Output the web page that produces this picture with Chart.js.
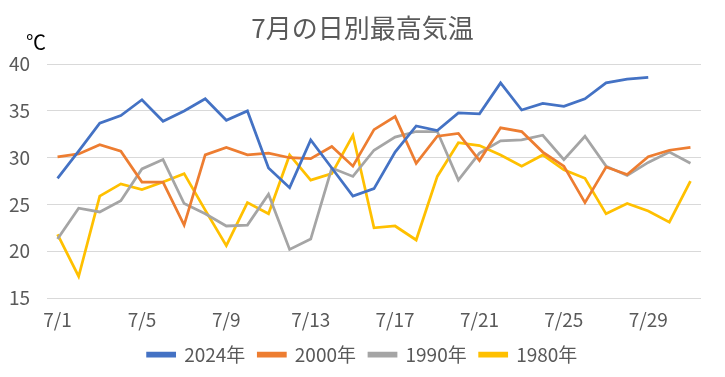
<!DOCTYPE html>
<html lang="ja">
<head>
<meta charset="UTF-8">
<title>7月の日別最高気温</title>
<script src="https://cdn.jsdelivr.net/npm/chart.js"></script>
<style>
    body { margin: 0; padding: 0; background: #ffffff; }
    #wrap { width: 725px; height: 377px; }
</style>
</head>
<body>
<div id="wrap"><canvas id="chart" width="725" height="377"></canvas></div>
<script>
    const days = ['7/1', '7/2', '7/3', '7/4', '7/5', '7/6', '7/7', '7/8', '7/9', '7/10',
        '7/11', '7/12', '7/13', '7/14', '7/15', '7/16', '7/17', '7/18', '7/19', '7/20',
        '7/21', '7/22', '7/23', '7/24', '7/25', '7/26', '7/27', '7/28', '7/29', '7/30', '7/31'];

    const temp2024 = [27.8, 30.7, 33.7, 34.5, 36.2, 33.9, 35.0, 36.3, 34.0, 35.0,
        28.9, 26.8, 31.9, 28.9, 25.9, 26.7, 30.6, 33.4, 32.9, 34.8,
        34.7, 38.0, 35.1, 35.8, 35.5, 36.3, 38.0, 38.4, 38.6, null, null];
    const temp2000 = [30.1, 30.4, 31.4, 30.7, 27.4, 27.4, 22.8, 30.3, 31.1, 30.3,
        30.5, 30.0, 29.9, 31.2, 29.1, 33.0, 34.4, 29.4, 32.3, 32.6,
        29.7, 33.2, 32.8, 30.6, 29.1, 25.2, 29.0, 28.2, 30.1, 30.8, 31.1];
    const temp1990 = [21.3, 24.6, 24.2, 25.4, 28.8, 29.8, 25.1, 24.0, 22.7, 22.8,
        26.1, 20.2, 21.3, 28.9, 28.0, 30.8, 32.2, 32.8, 32.8, 27.6,
        30.5, 31.8, 31.9, 32.4, 29.8, 32.3, 29.1, 28.1, 29.5, 30.6, 29.4];
    const temp1980 = [21.8, 17.3, 25.9, 27.2, 26.6, 27.4, 28.3, 24.4, 20.6, 25.2,
        24.0, 30.3, 27.6, 28.3, 32.4, 22.5, 22.7, 21.2, 28.0, 31.6,
        31.3, 30.3, 29.1, 30.3, 28.7, 27.8, 24.0, 25.1, 24.3, 23.1, 27.5];

    const seriesNames = ['2024年', '2000年', '1990年', '1980年'];
    const seriesColors = ['#4472C4', '#ED7D31', '#A5A5A5', '#FFC000'];

    const yMin = 15, yMax = 40, yStep = 5;

    const fontFamily = "'Noto Sans CJK JP', sans-serif";
    const textColor = '#595959';

    // draws the unit label above the y axis
    const unitLabel = {
        id: 'unitLabel',
        afterDraw(chart) {
            const ctx = chart.ctx;
            const area = chart.chartArea;
            ctx.save();
            ctx.font = "20px 'Noto Sans CJK JP', sans-serif";
            ctx.fillStyle = '#000000';
            ctx.textAlign = 'center';
            ctx.textBaseline = 'middle';
            ctx.fillText('℃', area.left - 11, area.top - 22);
            ctx.restore();
        }
    };

    const allSeries = [temp2024, temp2000, temp1990, temp1980];

    new Chart(document.getElementById('chart'), {
        type: 'line',
        data: {
            labels: days,
            datasets: allSeries.map((vals, i) => ({
                label: seriesNames[i],
                data: vals,
                borderColor: seriesColors[i],
                backgroundColor: seriesColors[i],
                borderWidth: 2.75,
                pointRadius: 0,
                tension: 0,
                fill: false
            }))
        },
        options: {
            responsive: false,
            animation: false,
            layout: { padding: { left: 9, right: 9, top: 0, bottom: 3 } },
            plugins: {
                title: {
                    display: true,
                    text: '7月の日別最高気温',
                    color: textColor,
                    font: { family: fontFamily, size: 26, weight: 'normal' },
                    padding: { top: 13, bottom: 20 }
                },
                legend: {
                    position: 'bottom',
                    labels: {
                        color: textColor,
                        font: { family: fontFamily, size: 19 },
                        boxWidth: 27,
                        boxHeight: 3,
                        padding: 13
                    }
                },
                tooltip: { enabled: false }
            },
            scales: {
                x: {
                    offset: true,
                    grid: { display: false },
                    border: { display: false },
                    ticks: {
                        autoSkip: false,
                        maxRotation: 0,
                        color: textColor,
                        padding: 2,
                        font: { family: fontFamily, size: 19 },
                        callback: function (value, index) {
                            return index % 4 === 0 ? days[index] : '';
                        }
                    },
                    afterFit: function (scale) { scale.height = 34; }
                },
                y: {
                    min: yMin,
                    max: yMax,
                    grid: { color: '#D9D9D9', drawTicks: false },
                    border: { display: false },
                    ticks: {
                        stepSize: yStep,
                        color: textColor,
                        padding: 17,
                        font: { family: fontFamily, size: 19 }
                    },
                    afterFit: function (scale) { scale.width = 38; }
                },
                // empty right margin so the legend and title stay centred on the page
                yRight: {
                    position: 'right',
                    min: 0,
                    max: 1,
                    grid: { display: false },
                    border: { display: false },
                    ticks: { display: false },
                    afterFit: function (scale) { scale.width = 15; }
                }
            }
        },
        plugins: [unitLabel]
    });
</script>
</body>
</html>
